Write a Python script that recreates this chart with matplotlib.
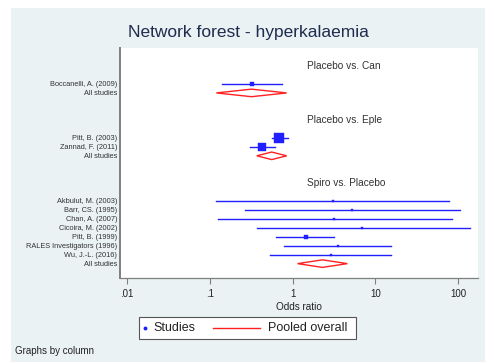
import numpy as np
import matplotlib
matplotlib.use("Agg")
import matplotlib.pyplot as plt
from matplotlib.patches import Rectangle, Polygon
from matplotlib.lines import Line2D

plt.rcParams["font.family"] = ["Liberation Sans", "DejaVu Sans"]

BG = "#eaf2f3"
BLUE = "#1f1fff"
RED = "#ff2020"
GREY = "#7f7f7f"

# comparisons and their studies
groups = ["Placebo vs. Can", "Placebo vs. Eple", "Spiro vs. Placebo"]
studies = [
    ["Boccanelli, A. (2009)"],
    ["Pitt, B. (2003)", "Zannad, F. (2011)"],
    ["Akbulut, M. (2003)", "Barr, CS. (1995)", "Chan, A. (2007)", "Cicoira, M. (2002)",
     "Pitt, B. (1999)", "RALES Investigators (1996)", "Wu, J.-L. (2016)"],
]
odds = [[0.32], [0.68, 0.43], [3.05, 5.3, 3.2, 7.0, 1.44, 3.5, 2.9]]
low = [[0.14], [0.56, 0.31], [0.12, 0.27, 0.127, 0.37, 0.64, 0.80, 0.54]]
high = [[0.74], [0.87, 0.61], [78, 105, 84, 140, 3.2, 15.4, 15.4]]
weights = [[0.12], [1.0, 0.6], [0.06, 0.06, 0.06, 0.06, 0.22, 0.09, 0.09]]

pooled = [0.32, 0.56, 2.3]
pooled_low = [0.12, 0.37, 1.15]
pooled_high = [0.85, 0.85, 4.6]

xticks = [0.01, 0.1, 1, 10, 100]
xticklabels = [".01", ".1", "1", "10", "100"]


def px(x, y):
    # pixel position -> figure fraction
    return x / 490, 1 - y / 364


def main():
    fig = plt.figure(figsize=(4.9, 3.64), dpi=100)
    fig.patch.set_facecolor("white")
    fig.patches.append(Rectangle((11 / 490, 2 / 364), 474 / 490, 354 / 364,
                                 transform=fig.transFigure, facecolor=BG,
                                 edgecolor="none", zorder=-10))

    ax = fig.add_axes([120 / 490, 1 - 278 / 364, 358 / 490, 230 / 364])
    ax.set_xscale("log")
    ax.set_xlim(10 ** -2.085, 10 ** 2.242)
    ax.set_ylim(25.6, 0)

    ylab_pos, ylab_txt = [], []
    r = 2
    for g, name in enumerate(groups):
        ax.text(1.48, r, name, fontsize=7.3, color="#333333", va="center", ha="left")
        r += 2
        for k, st in enumerate(studies[g]):
            ax.plot([low[g][k], high[g][k]], [r, r], color=BLUE, lw=1.0)
            ms = 7 * np.sqrt(weights[g][k])
            ax.plot(odds[g][k], r, marker="s", ms=ms, color=BLUE, mec=BLUE, mew=0.3)
            ylab_pos.append(r)
            ylab_txt.append(st)
            r += 1
        lo, mid, hi = np.log10([pooled_low[g], pooled[g], pooled_high[g]])
        h = 0.42
        diamond = Polygon([(10 ** lo, r), (10 ** mid, r - h), (10 ** hi, r),
                           (10 ** mid, r + h)], closed=True, fill=False,
                          edgecolor=RED, lw=1.0)
        ax.add_patch(diamond)
        ylab_pos.append(r)
        ylab_txt.append("All studies")
        r += 3

    ax.set_yticks(ylab_pos)
    ax.set_yticklabels(ylab_txt, fontsize=5.3, color="#333333")
    ax.tick_params(axis="y", length=0, pad=2)
    ax.set_xticks(xticks)
    ax.set_xticklabels(xticklabels, fontsize=7, color="#222222")
    ax.minorticks_off()
    ax.tick_params(axis="x", length=4, width=0.8, color=GREY, pad=4)
    ax.set_xlabel("Odds ratio", fontsize=7.2, color="#222222", labelpad=2)

    for s in ["top", "right"]:
        ax.spines[s].set_visible(False)
    ax.spines["left"].set_color(GREY)
    ax.spines["left"].set_linewidth(1.4)
    ax.spines["bottom"].set_color(GREY)
    ax.spines["bottom"].set_linewidth(0.9)

    fig.text(*px(248, 33), "Network forest - hyperkalaemia", fontsize=12.5,
             color="#1e2c4f", ha="center", va="center")

    # legend box drawn by hand to match the spacing
    fig.patches.append(Rectangle(px(139, 339), 217 / 490, 22 / 364,
                                 transform=fig.transFigure, facecolor="white",
                                 edgecolor="#555555", lw=0.8))
    fig.lines.append(Line2D([px(145, 0)[0]], [px(0, 328)[1]], ls="none", marker="o",
                            ms=1.8, color=BLUE, transform=fig.transFigure))
    fig.text(*px(153, 328), "Studies", fontsize=9, color="#222222", ha="left", va="center")
    fig.lines.append(Line2D([px(213, 0)[0], px(260, 0)[0]], [px(0, 328)[1]] * 2,
                            color=RED, lw=1.0, transform=fig.transFigure))
    fig.text(*px(268, 328), "Pooled overall", fontsize=9, color="#222222",
             ha="left", va="center")

    fig.text(*px(15, 351), "Graphs by column", fontsize=7, color="#222222",
             ha="left", va="center")

    fig.savefig("out.png", dpi=100, facecolor="white")
    plt.close()


if __name__ == "__main__":
    main()
